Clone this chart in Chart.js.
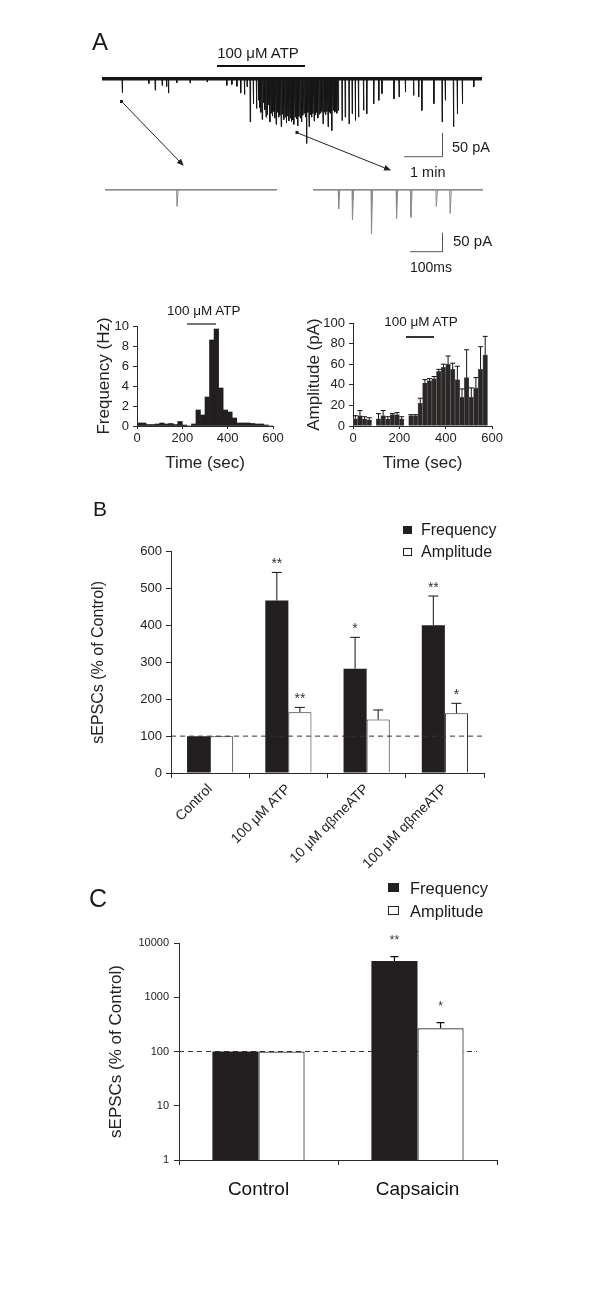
<!DOCTYPE html>
<html><head><meta charset="utf-8">
<script src="https://cdn.jsdelivr.net/npm/chart.js@4.4.1/dist/chart.umd.min.js"></script>
<style>
html,body{margin:0;padding:0;background:#fff;}
#root{position:relative;width:600px;height:1300px;overflow:hidden;font-family:Arial,"Liberation Sans",sans-serif;color:#1a1a1a;}
#root canvas{position:absolute;}
.t{position:absolute;white-space:nowrap;line-height:1;}
.box{position:absolute;box-sizing:border-box;}
svg{position:absolute;left:0;top:0;}
</style></head>
<body><div id="root">
<canvas id="cMain" width="380" height="76" style="left:102px;top:70px"></canvas>
<canvas id="cLow1" width="172" height="49" style="left:105px;top:186px"></canvas>
<canvas id="cLow2" width="170" height="49" style="left:313px;top:186px"></canvas>
<canvas id="cFreq" width="200" height="176" style="left:90px;top:300px"></canvas>
<canvas id="cAmp" width="205" height="176" style="left:300px;top:300px"></canvas>
<canvas id="cB" width="415" height="340" style="left:85px;top:540px"></canvas>
<canvas id="cC" width="408" height="275" style="left:102px;top:930px"></canvas>
<svg width="600" height="1300">
  <defs><marker id="ah" markerWidth="7" markerHeight="6" refX="6" refY="3" orient="auto"><path d="M0,0 L7,3 L0,6 z" fill="#222"/></marker></defs>
  <g stroke="#222" stroke-width="1" fill="none">
    <line x1="121.7" y1="101.7" x2="183" y2="165" marker-end="url(#ah)"/>
    <line x1="297" y1="132.7" x2="390" y2="170" marker-end="url(#ah)"/>
  </g>
  <rect x="120" y="100" width="3" height="3" fill="#222"/>
  <rect x="295.5" y="131" width="3" height="3" fill="#222"/>
  <g stroke="#555" stroke-width="1" fill="none">
    <polyline points="442.5,133 442.5,156.7 404,156.7"/>
    <polyline points="442.5,232.7 442.5,251.7 410,251.7"/>
  </g>
</svg>
</div>
<script>
// ---------------- DATA ----------------
// Panel A main trace: spontaneous events (time in s, amplitude in pA)
const mainTimes = [32,74,84,95,102,105,118,139,166,197,205,213,219,225,229,234,239,244,
 247,249,251,253,255,257,259,261,263,265,267,269,271,273,275,277,279,281,283,285,287,289,291,293,295,297,299,301,303,305,307,309,311,313,315,317,319,321,323,325,327,329,331,333,335,337,339,341,343,345,347,349,351,353,355,357,359,361,363,365,367,369,371,373,
 379,384,390,395,400,405,413,418,429,437,442,461,469,479,492,500,505,524,537,542,555,561,569,587];
const mainAmps = [29,10,24,14,17,30,9,9,7,14,12,16,30,33,17,90,52,62,
 45,60,70,85,50,65,80,75,55,90,72,78,68,82,95,70,80,76,100,74,85,80,92,78,88,82,90,86,95,80,84,98,78,82,90,76,72,80,135,70,100,75,80,72,88,75,70,82,74,72,68,94,70,75,68,100,70,72,108,66,70,68,72,66,
 87,80,94,73,87,80,66,73,52,45,31,42,38,28,35,38,66,52,90,45,100,73,52,17];
// Expanded traces (time in ms, amplitude in pA)
const lowLeftTimes = [247];
const lowLeftAmps = [44];
const lowRightTimes = [89,137,203,290,340,428,476];
const lowRightAmps = [51,79,117,76,73,44,63];
// Histograms (20 s bins, centre times)
const histBinTimes = [10,30,50,70,90,110,130,150,170,190,210,230,250,270,290,310,330,350,370,390,410,430,450,470,490,510,530,550,570,590];
const freqHz = [0.3,0.3,0.15,0.15,0.2,0.3,0.2,0.25,0.15,0.45,0.1,0,0.2,1.6,1.1,2.9,8.6,9.7,3.8,1.6,1.4,0.8,0.3,0.3,0.3,0.25,0.2,0.2,0.1,0];
const ampPA = [7,10,7,6,0,7,10,7,11,11,7,0,10,10,22,42,44,46,53,57,60,55,45,28,47,28,37,55,69,0];
const ampErrTop = [10,15,9,8,null,12,15,9,12,13,9,null,11,11,27,45,46,48,55,60,68,61,58,36,74,37,47,77,87,null];
const freqTicks = [0,2,4,6,8,10];
const ampTicks = [0,20,40,60,80,100];
const timeTicks = [0,200,400,600];
// Panel B
const bCategories = ['Control','100 μM ATP','10 μM αβmeATP','100 μM αβmeATP'];
const bFreq = [100,468,283,401];
const bFreqErr = [null,544,368,480];
const bFreqStars = ['','**','*','**'];
const bAmp = [100,165,145,162];
const bAmpErr = [null,178,171,189];
const bAmpStars = ['','**','','*'];
// Panel C
const cCategories = ['Control','Capsaicin'];
const cFreq = [100,4650];
const cFreqErr = [null,5600];
const cFreqStars = ['','**'];
const cAmp = [100,267];
const cAmpErr = [null,340];
const cAmpStars = ['','*'];
const cYTicks = [1,10,100,1000,10000];

// ---------------- HELPERS ----------------
const BLACK = '#231f20', AX = '#2a2a2a';
const NARROW = "'Liberation Sans Narrow','Arial Narrow',Arial,sans-serif";
const root = document.getElementById('root');
function label(text, x, y, size, opt) {
  opt = opt || {};
  const d = document.createElement('div');
  d.className = 't';
  d.textContent = text;
  d.style.fontSize = size + 'px';
  d.style.left = x + 'px';
  d.style.top = y + 'px';
  d.style.transform = opt.center ? 'translate(-50%,-50%)' : 'translate(0,-50%)';
  if (opt.family) d.style.fontFamily = opt.family;
  if (opt.color) d.style.color = opt.color;
  root.appendChild(d);
}
function box(x, y, w, h, bg, border) {
  const d = document.createElement('div');
  d.className = 'box';
  Object.assign(d.style, {left: x + 'px', top: y + 'px', width: w + 'px', height: h + 'px', background: bg});
  if (border) d.style.border = border;
  root.appendChild(d);
}
function spikes(times, amps, start, end, rise, decay) {
  const pts = [{x: start, y: 0}];
  for (let i = 0; i < times.length; i++) {
    pts.push({x: times[i] - rise, y: 0}, {x: times[i], y: -amps[i]}, {x: times[i] + decay, y: 0});
  }
  pts.push({x: end, y: 0});
  return pts;
}

const errStars = {
  id: 'errStars',
  afterDatasetsDraw(chart, args, opts) {
    const ctx = chart.ctx;
    chart.data.datasets.forEach((ds, di) => {
      if (!ds.errTop && !ds.stars) return;
      const meta = chart.getDatasetMeta(di);
      const ys = chart.scales[meta.yAxisID];
      meta.data.forEach((el, i) => {
        const e = ds.errTop ? ds.errTop[i] : null;
        let top = el.y;
        ctx.save();
        ctx.strokeStyle = opts.color || '#111';
        ctx.lineWidth = opts.lineWidth || 1;
        if (e != null) {
          const ey = ys.getPixelForValue(e);
          const cap = opts.cap || 4;
          ctx.beginPath();
          ctx.moveTo(el.x, el.y); ctx.lineTo(el.x, ey);
          ctx.moveTo(el.x - cap, ey); ctx.lineTo(el.x + cap, ey);
          ctx.stroke();
          top = ey;
        }
        const s = ds.stars ? ds.stars[i] : '';
        if (s) {
          ctx.font = opts.starFont || '14px Arial';
          ctx.fillStyle = opts.starColor || '#333';
          ctx.textAlign = 'center';
          ctx.textBaseline = 'alphabetic';
          ctx.fillText(s, el.x, top - (opts.starGap || 4));
        }
        ctx.restore();
      });
    });
  }
};
function drawRef(chart, opts) {
  if (opts.value == null) return;
  const ctx = chart.ctx, a = chart.chartArea;
  const y = chart.scales.y.getPixelForValue(opts.value);
  ctx.save();
  ctx.strokeStyle = opts.color || '#333';
  ctx.lineWidth = 1;
  ctx.setLineDash(opts.dash || [5, 4]);
  ctx.beginPath();
  ctx.moveTo(a.left + (opts.leftInset || 0), y);
  ctx.lineTo(a.right - (opts.rightInset || 0), y);
  ctx.stroke();
  ctx.restore();
}
const refLine = {
  id: 'refLine',
  beforeDatasetsDraw(chart, args, opts) { if (opts.under) drawRef(chart, opts); },
  afterDatasetsDraw(chart, args, opts) { if (!opts.under) drawRef(chart, opts); }
};
Chart.register(errStars, refLine);
Chart.defaults.font.family = 'Arial, "Liberation Sans", sans-serif';
Chart.defaults.color = '#222';

const base = {responsive: false, animation: false, events: [], devicePixelRatio: 1};
const noLegend = {legend: {display: false}, tooltip: {enabled: false}};

// ---------------- PANEL A: traces ----------------
function traceChart(id, pts, xmax, ymin, ymax, color, lw, baseW) {
  new Chart(document.getElementById(id), {
    type: 'line',
    data: {datasets: [
      {data: [{x: 0, y: 0}, {x: xmax, y: 0}], borderColor: color, borderWidth: baseW, pointRadius: 0},
      {data: pts, borderColor: color, borderWidth: lw, pointRadius: 0, tension: 0}
    ]},
    options: Object.assign({}, base, {
      layout: {padding: 0},
      plugins: noLegend,
      scales: {
        x: {type: 'linear', display: false, min: 0, max: xmax},
        y: {display: false, min: ymin, max: ymax}
      }
    })
  });
}
traceChart('cMain', spikes(mainTimes, mainAmps, 0, 600, 0.4, 0.6), 600, -140, 18, '#151515', 1, 3.5);
traceChart('cLow1', spikes(lowLeftTimes, lowLeftAmps, 0, 590, 1.5, 4), 590, -120, 10, '#8a8a8a', 1, 1.3);
traceChart('cLow2', spikes(lowRightTimes, lowRightAmps, 0, 590, 1.5, 4), 590, -120, 10, '#8a8a8a', 1, 1.3);

// ---------------- PANEL A: histograms ----------------
function histChart(id, vals, errs, ymax, yTicks, yTitle, yWidth, padTop, padRight, fill, border, bw) {
  const ds = {
    data: histBinTimes.map((t, i) => ({x: t, y: vals[i]})),
    backgroundColor: fill, borderColor: border, borderWidth: bw,
    barPercentage: 1, categoryPercentage: 1, borderSkipped: false
  };
  if (errs) ds.errTop = errs;
  new Chart(document.getElementById(id), {
    type: 'bar',
    data: {datasets: [ds]},
    options: Object.assign({}, base, {
      layout: {padding: {top: padTop, right: padRight, left: 0, bottom: 0}},
      plugins: Object.assign({}, noLegend, {errStars: {cap: 2.5, lineWidth: 1, color: '#111'}}),
      scales: {
        x: {type: 'linear', min: 0, max: 600, offset: false,
            afterBuildTicks: s => { s.ticks = timeTicks.map(v => ({value: v})); },
            ticks: {font: {size: 13}, color: '#222', padding: 2, maxRotation: 0},
            grid: {drawOnChartArea: false, tickLength: 3, color: AX, offset: false},
            border: {color: AX},
            title: {display: true, text: 'Time (sec)', font: {size: 17}, color: '#222', padding: {top: 2, bottom: 2}},
            afterFit: s => { s.height = 50; }},
        y: {min: 0, max: ymax,
            afterBuildTicks: s => { s.ticks = yTicks.map(v => ({value: v})); },
            ticks: {font: {size: 13}, color: '#222', padding: 4},
            grid: {drawOnChartArea: false, tickLength: 4, color: AX},
            border: {color: AX},
            title: {display: true, text: yTitle, font: {size: 17}, color: '#222', padding: {top: 4, bottom: 2}},
            afterFit: s => { s.width = yWidth; }}
      }
    })
  });
}
histChart('cFreq', freqHz, null, 10, freqTicks, 'Frequency (Hz)', 47, 26, 17, BLACK, BLACK, 0);
histChart('cAmp', ampPA, ampErrTop, 100, ampTicks, 'Amplitude (pA)', 53, 23, 12, '#2b2727', '#6e6e6e', 0.6);

// ---------------- PANEL B ----------------
new Chart(document.getElementById('cB'), {
  type: 'bar',
  data: {labels: bCategories, datasets: [
    {label: 'Frequency', data: bFreq, errTop: bFreqErr, stars: bFreqStars,
     backgroundColor: BLACK, borderColor: BLACK, borderWidth: 0, categoryPercentage: 0.59, barPercentage: 1},
    {label: 'Amplitude', data: bAmp, errTop: bAmpErr, stars: bAmpStars,
     backgroundColor: '#fff', borderColor: '#222', borderWidth: 1, categoryPercentage: 0.59, barPercentage: 1}
  ]},
  options: Object.assign({}, base, {
    layout: {padding: {top: 10, right: 16, left: 0, bottom: 0}},
    plugins: Object.assign({}, noLegend, {
      errStars: {cap: 5, lineWidth: 1, color: '#111', starFont: '14px Arial', starGap: 4},
      refLine: {value: 100, dash: [5, 4], color: '#333'}
    }),
    scales: {
      x: {ticks: {minRotation: 45, maxRotation: 45, autoSkip: false, font: {size: 14}, color: '#222', padding: 3},
          grid: {drawOnChartArea: false, tickLength: 5, color: AX, offset: true},
          border: {color: AX},
          afterFit: s => { s.height = 107; }},
      y: {min: 0, max: 600, ticks: {stepSize: 100, font: {size: 13}, color: '#222', padding: 4},
          grid: {drawOnChartArea: false, tickLength: 5, color: AX},
          border: {color: AX},
          title: {display: true, text: 'sEPSCs (% of Control)', font: {size: 16}, color: '#222', padding: {top: 4, bottom: 2}},
          afterFit: s => { s.width = 86; }}
    }
  })
});

// ---------------- PANEL C ----------------
new Chart(document.getElementById('cC'), {
  type: 'bar',
  data: {labels: cCategories, datasets: [
    {label: 'Frequency', data: cFreq, errTop: cFreqErr, stars: cFreqStars,
     backgroundColor: BLACK, borderColor: BLACK, borderWidth: 0, categoryPercentage: 0.58, barPercentage: 1},
    {label: 'Amplitude', data: cAmp, errTop: cAmpErr, stars: cAmpStars,
     backgroundColor: '#fff', borderColor: '#222', borderWidth: 1.2, categoryPercentage: 0.58, barPercentage: 1}
  ]},
  options: Object.assign({}, base, {
    layout: {padding: {top: 13, right: 13, left: 0, bottom: 0}},
    plugins: Object.assign({}, noLegend, {
      errStars: {cap: 4, lineWidth: 1.2, color: '#111', starFont: '12px Arial', starGap: 13},
      refLine: {value: 100, dash: [5, 4], color: '#333', under: true, rightInset: 20}
    }),
    scales: {
      x: {ticks: {font: {size: 19}, color: '#111', padding: 13.6, maxRotation: 0},
          grid: {drawOnChartArea: false, tickLength: 5, color: AX, offset: true},
          border: {color: AX},
          afterFit: s => { s.height = 45; }},
      y: {type: 'logarithmic', min: 1, max: 10000,
          afterBuildTicks: s => { s.ticks = cYTicks.map(v => ({value: v})); },
          ticks: {font: {size: 11, family: NARROW}, color: '#222', padding: 5, callback: v => String(v)},
          grid: {drawOnChartArea: false, tickLength: 5, color: AX},
          border: {color: AX},
          title: {display: true, text: 'sEPSCs (% of Control)', font: {size: 17, family: NARROW}, color: '#222', padding: {top: 4, bottom: 2}},
          afterFit: s => { s.width = 77; }}
    }
  })
});

// ---------------- TEXT & ANNOTATIONS ----------------
label('A', 100, 42, 24, {center: true});
label('100 μM ATP', 258, 52, 15, {center: true});
box(217, 65, 88, 2, '#111');
label('50 pA', 452, 146.7, 14.5);
label('1 min', 410, 171.7, 14.5);
label('50 pA', 453, 240, 15);
label('100ms', 410, 267, 14);
label('100 μM ATP', 203.7, 311, 13.5, {center: true});
box(187, 322.5, 29, 2, '#777');
label('100 μM ATP', 421, 321.7, 13.5, {center: true});
box(406, 336, 28, 2, '#333');

label('B', 100, 508, 21, {center: true});
box(403, 526, 9, 8, BLACK);
label('Frequency', 421, 530, 16);
box(403, 548, 9, 8, '#fff', '1px solid #222');
label('Amplitude', 421, 552, 16);

label('C', 98, 898, 25, {center: true});
box(388, 883, 11, 9, BLACK);
label('Frequency', 410, 888, 16.5);
box(388, 906, 11, 9, '#fff', '1px solid #222');
label('Amplitude', 410, 911, 16.5);
</script>
</body></html>
